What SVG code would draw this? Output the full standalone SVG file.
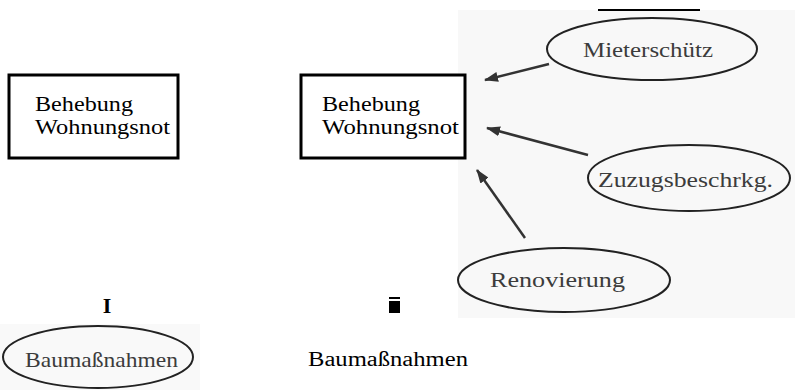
<svg xmlns="http://www.w3.org/2000/svg" width="795" height="390" viewBox="0 0 795 390">
<style>
.box{fill:#fff;stroke:#000;stroke-width:3}
.bt{font-family:"Liberation Serif",serif;font-size:20px;fill:#000}
.ell{fill:none;stroke:#222;stroke-width:2}
.et{font-family:"Liberation Serif",serif;font-size:21px;fill:#3c3c3c}
.conn{stroke:#333;stroke-width:2.5;fill:none}
</style>
<defs>
<marker id="ah" markerUnits="userSpaceOnUse" markerWidth="14" markerHeight="10" refX="13" refY="5" orient="auto">
<path d="M0,0 L14,5 L0,10 Z" fill="#333"/>
</marker>
</defs>
<rect x="0" y="0" width="795" height="390" fill="#fff"/>
<rect x="458" y="10" width="337" height="308" fill="#f8f8f8"/>
<rect x="0" y="324" width="200" height="66" fill="#f9f9f9"/>
<line x1="598" y1="10" x2="700" y2="10" stroke="#000" stroke-width="2"/>
<g id="box1">
<rect class="box" x="9" y="75" width="169" height="83"/>
<text class="bt" x="35" y="111" textLength="98" lengthAdjust="spacingAndGlyphs">Behebung</text>
<text class="bt" x="35" y="134" textLength="135" lengthAdjust="spacingAndGlyphs">Wohnungsnot</text>
</g>
<g id="box2">
<rect class="box" x="301" y="75" width="164" height="83"/>
<text class="bt" x="322" y="111" textLength="98" lengthAdjust="spacingAndGlyphs">Behebung</text>
<text class="bt" x="322" y="134" textLength="137" lengthAdjust="spacingAndGlyphs">Wohnungsnot</text>
</g>
<g id="mieterschutz">
<ellipse class="ell" cx="652" cy="49" rx="105" ry="31"/>
<text class="et" x="583" y="57" textLength="130" lengthAdjust="spacingAndGlyphs">Mieterschütz</text>
</g>
<g id="zuzug">
<ellipse class="ell" cx="689" cy="178" rx="101" ry="33"/>
<text class="et" x="598" y="187" textLength="175" lengthAdjust="spacingAndGlyphs">Zuzugsbeschrkg.</text>
</g>
<g id="renovierung">
<ellipse class="ell" cx="564" cy="280" rx="106" ry="32"/>
<text class="et" x="490" y="287" textLength="135" lengthAdjust="spacingAndGlyphs">Renovierung</text>
</g>
<g id="baumassnahmen1">
<ellipse class="ell" cx="98" cy="357" rx="95" ry="31"/>
<text class="et" x="25" y="367" textLength="153" lengthAdjust="spacingAndGlyphs">Baumaßnahmen</text>
</g>
<g id="label-I">
<text x="107" y="313" text-anchor="middle" font-family="Liberation Serif, serif" font-weight="bold" font-size="22">I</text>
</g>
<g id="mark">
<rect x="389" y="297" width="11" height="2" fill="#000"/>
<rect x="389" y="301" width="11" height="12" fill="#000"/>
</g>
<g id="baumassnahmen2">
<text class="bt" x="308" y="366" textLength="160" lengthAdjust="spacingAndGlyphs">Baumaßnahmen</text>
</g>
<g id="connectors">
<line class="conn" x1="549" y1="64" x2="485" y2="80" marker-end="url(#ah)"/>
<line class="conn" x1="588" y1="155" x2="487" y2="128" marker-end="url(#ah)"/>
<line class="conn" x1="525" y1="238" x2="477" y2="170" marker-end="url(#ah)"/>
</g>
</svg>
